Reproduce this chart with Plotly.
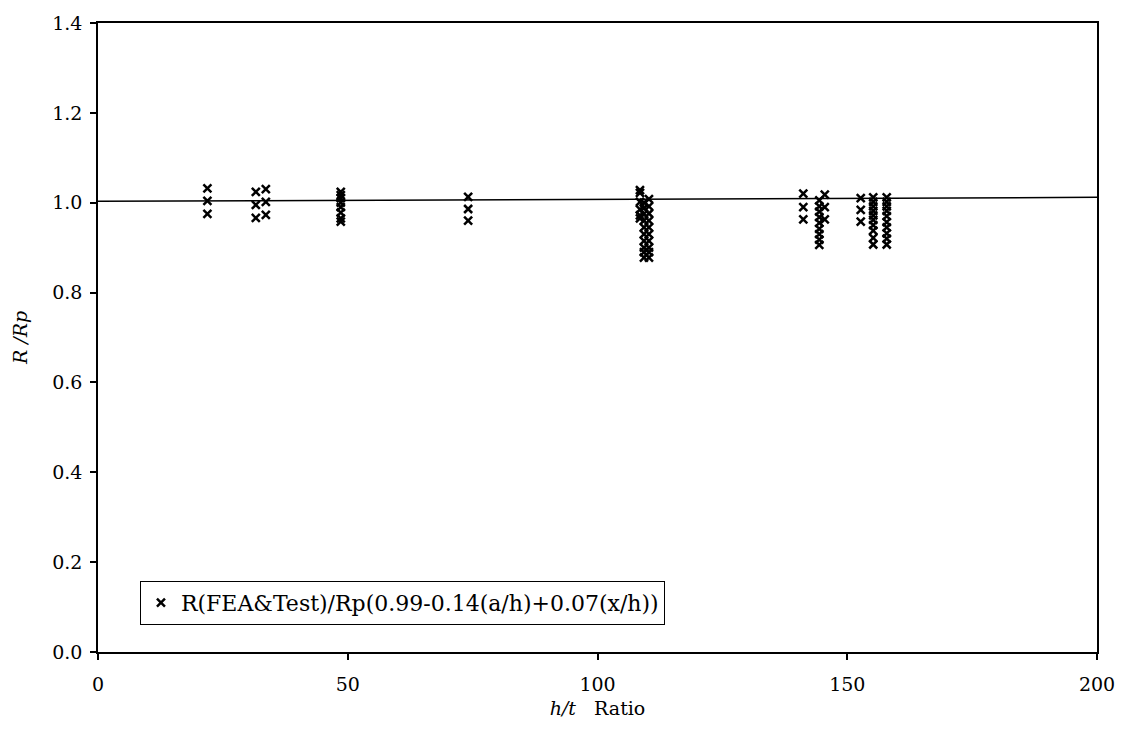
import plotly.graph_objects as go

# h/t ratio of each data point
ht = [
    21.9, 21.9, 21.9,
    31.6, 31.6, 31.6,
    33.6, 33.6, 33.6,
    48.6, 48.6, 48.6, 48.6, 48.6, 48.6, 48.6, 48.6,
    74.1, 74.1, 74.1,
    108.5, 108.5, 108.5, 108.5, 108.5, 108.5,
    109.3, 109.3, 109.3, 109.3, 109.3, 109.3, 109.3, 109.3, 109.3, 109.3,
    110.3, 110.3, 110.3, 110.3, 110.3, 110.3, 110.3, 110.3, 110.3, 110.3,
    141.2, 141.2, 141.2,
    144.4, 144.4, 144.4, 144.4, 144.4, 144.4, 144.4, 144.4, 144.4,
    145.5, 145.5, 145.5,
    152.7, 152.7, 152.7,
    155.2, 155.2, 155.2, 155.2, 155.2, 155.2, 155.2, 155.2, 155.2, 155.2,
    157.9, 157.9, 157.9, 157.9, 157.9, 157.9, 157.9, 157.9, 157.9, 157.9,
]
# R/Rp of each data point
r_rp = [
    1.032, 1.004, 0.975,
    1.024, 0.995, 0.966,
    1.030, 1.002, 0.973,
    1.024, 1.017, 1.010, 1.000, 0.990, 0.978, 0.965, 0.958,
    1.013, 0.986, 0.960,
    1.028, 1.022, 1.002, 0.985, 0.972, 0.965,
    1.000, 0.988, 0.975, 0.960, 0.945, 0.930, 0.915, 0.900, 0.890, 0.878,
    1.008, 0.992, 0.976, 0.960, 0.945, 0.930, 0.915, 0.900, 0.890, 0.878,
    1.020, 0.990, 0.963,
    1.005, 0.992, 0.980, 0.968, 0.955, 0.942, 0.930, 0.918, 0.906,
    1.018, 0.990, 0.963,
    1.010, 0.984, 0.958,
    1.012, 1.002, 0.992, 0.982, 0.972, 0.962, 0.950, 0.938, 0.922, 0.907,
    1.012, 1.002, 0.992, 0.982, 0.970, 0.957, 0.945, 0.932, 0.920, 0.907,
]
# trend line end points
line_x = [0, 200]
line_y = [1.003, 1.012]

x_ticks = [0, 50, 100, 150, 200]
y_ticks = [0.0, 0.2, 0.4, 0.6, 0.8, 1.0, 1.2, 1.4]

font = "DejaVu Serif"

fig = go.Figure()
fig.add_trace(go.Scatter(
    x=line_x, y=line_y, mode="lines",
    line=dict(color="black", width=1.5),
    showlegend=False, hoverinfo="skip",
))
fig.add_trace(go.Scatter(
    x=ht, y=r_rp, mode="markers",
    marker=dict(symbol="x-thin", size=8, color="black",
                line=dict(color="black", width=2.5)),
    name="R(FEA&amp;Test)/Rp(0.99-0.14(a/h)+0.07(x/h))",
))

fig.update_layout(
    width=1127, height=740,
    margin=dict(l=98, r=30, t=15, b=88),
    plot_bgcolor="white", paper_bgcolor="white",
    font=dict(family=font, size=19, color="black"),
    showlegend=True,
    legend=dict(
        x=0.042, y=0.113, xanchor="left", yanchor="top",
        bordercolor="black", borderwidth=1, bgcolor="white",
        font=dict(family=font, size=22, color="black"),
        itemwidth=30,
    ),
    xaxis=dict(
        range=[0, 200], tickvals=x_ticks,
        showline=True, linecolor="black", linewidth=1.5, mirror=True,
        ticks="outside", ticklen=6, tickcolor="black", tickwidth=1.5,
        showgrid=False, zeroline=False, ticklabelstandoff=8,
        tickfont=dict(family=font, size=19),
        title=dict(text="<i>h/t</i>   Ratio", font=dict(family=font, size=19), standoff=8),
    ),
    yaxis=dict(
        range=[0, 1.4], tickvals=y_ticks, tickformat=".1f",
        showline=True, linecolor="black", linewidth=1.5, mirror=True,
        ticks="outside", ticklen=6, tickcolor="black", tickwidth=1.5,
        showgrid=False, zeroline=False, ticklabelstandoff=4,
        tickfont=dict(family=font, size=19),
        title=dict(text="<i>R /Rp</i>", font=dict(family=font, size=19), standoff=20),
    ),
)

fig.write_html("out.html")
